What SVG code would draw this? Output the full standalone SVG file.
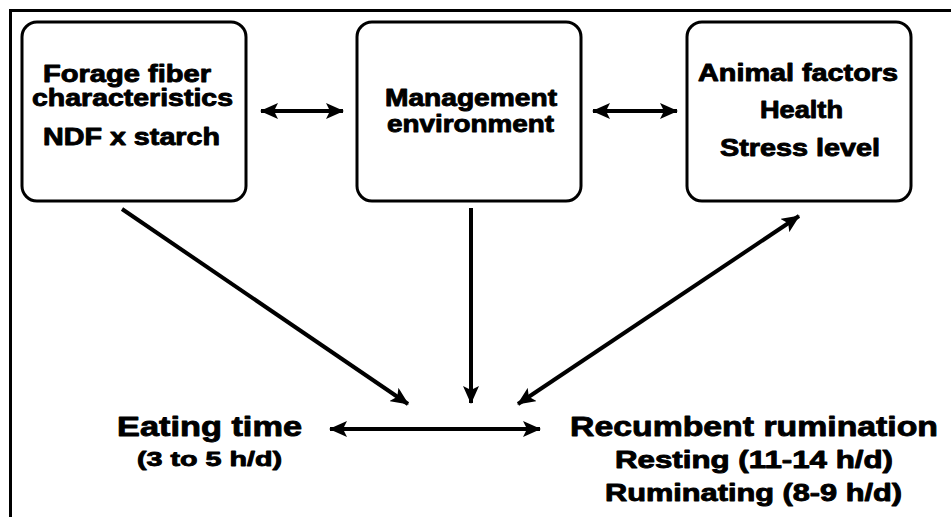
<svg xmlns="http://www.w3.org/2000/svg" width="951" height="517" viewBox="0 0 951 517">
<style>
.box{fill:#fff;stroke:#000;stroke-width:3}
.t{font-family:"Liberation Sans",Arial,sans-serif;font-weight:bold;fill:#000;stroke:#000;stroke-width:0.9;stroke-linejoin:round}
.b{font-size:23.5px}
.big{font-size:28.5px}
.s1{font-size:21px}
.s2{font-size:24px}
.conn line{stroke:#000;stroke-width:4}
</style>
<defs>
<marker id="ah" viewBox="0 0 18 16" refX="17" refY="8" markerWidth="18" markerHeight="16" markerUnits="userSpaceOnUse" orient="auto-start-reverse">
<path d="M0,0 L18,8 L0,16 L4,8 z" fill="#000"/>
</marker>
</defs>
<rect width="951" height="517" fill="#fff"/>
<path d="M10.5,517 V10.5 H951" fill="none" stroke="#000" stroke-width="3"/>
<g id="forage">
<rect class="box" x="22" y="22" width="224" height="179" rx="15"/>
<text class="t b" x="43" y="82" textLength="168" lengthAdjust="spacingAndGlyphs">Forage fiber</text>
<text class="t b" x="32" y="106" textLength="201" lengthAdjust="spacingAndGlyphs">characteristics</text>
<text class="t b" x="43" y="145" textLength="177" lengthAdjust="spacingAndGlyphs">NDF x starch</text>
</g>
<g id="management">
<rect class="box" x="357" y="22" width="224" height="179" rx="15"/>
<text class="t b" x="385" y="106" textLength="172" lengthAdjust="spacingAndGlyphs">Management</text>
<text class="t b" x="387" y="132" textLength="167" lengthAdjust="spacingAndGlyphs">environment</text>
</g>
<g id="animal">
<rect class="box" x="687" y="22" width="224" height="179" rx="15"/>
<text class="t b" x="698" y="81" textLength="200" lengthAdjust="spacingAndGlyphs">Animal factors</text>
<text class="t b" x="760" y="118" textLength="83" lengthAdjust="spacingAndGlyphs">Health</text>
<text class="t b" x="720" y="156" textLength="160" lengthAdjust="spacingAndGlyphs">Stress level</text>
</g>
<g id="eating">
<text class="t big" x="117" y="436" textLength="185" lengthAdjust="spacingAndGlyphs">Eating time</text>
<text class="t s1" x="137" y="466" textLength="145" lengthAdjust="spacingAndGlyphs">(3 to 5 h/d)</text>
</g>
<g id="rumination">
<text class="t big" x="570" y="436" textLength="368" lengthAdjust="spacingAndGlyphs">Recumbent rumination</text>
<text class="t s2" x="615" y="468" textLength="278" lengthAdjust="spacingAndGlyphs">Resting (11-14 h/d)</text>
<text class="t s2" x="605" y="501" textLength="297" lengthAdjust="spacingAndGlyphs">Ruminating (8-9 h/d)</text>
</g>
<g id="connectors" class="conn">
<line x1="261" y1="111" x2="343" y2="111" marker-start="url(#ah)" marker-end="url(#ah)"/>
<line x1="593" y1="111" x2="677" y2="111" marker-start="url(#ah)" marker-end="url(#ah)"/>
<line x1="122" y1="209" x2="408" y2="404" marker-end="url(#ah)"/>
<line x1="471" y1="208" x2="471" y2="403" marker-end="url(#ah)"/>
<line x1="518" y1="404" x2="799" y2="216" marker-start="url(#ah)" marker-end="url(#ah)"/>
<line x1="330" y1="429" x2="540" y2="429" marker-start="url(#ah)" marker-end="url(#ah)"/>
</g>
</svg>
